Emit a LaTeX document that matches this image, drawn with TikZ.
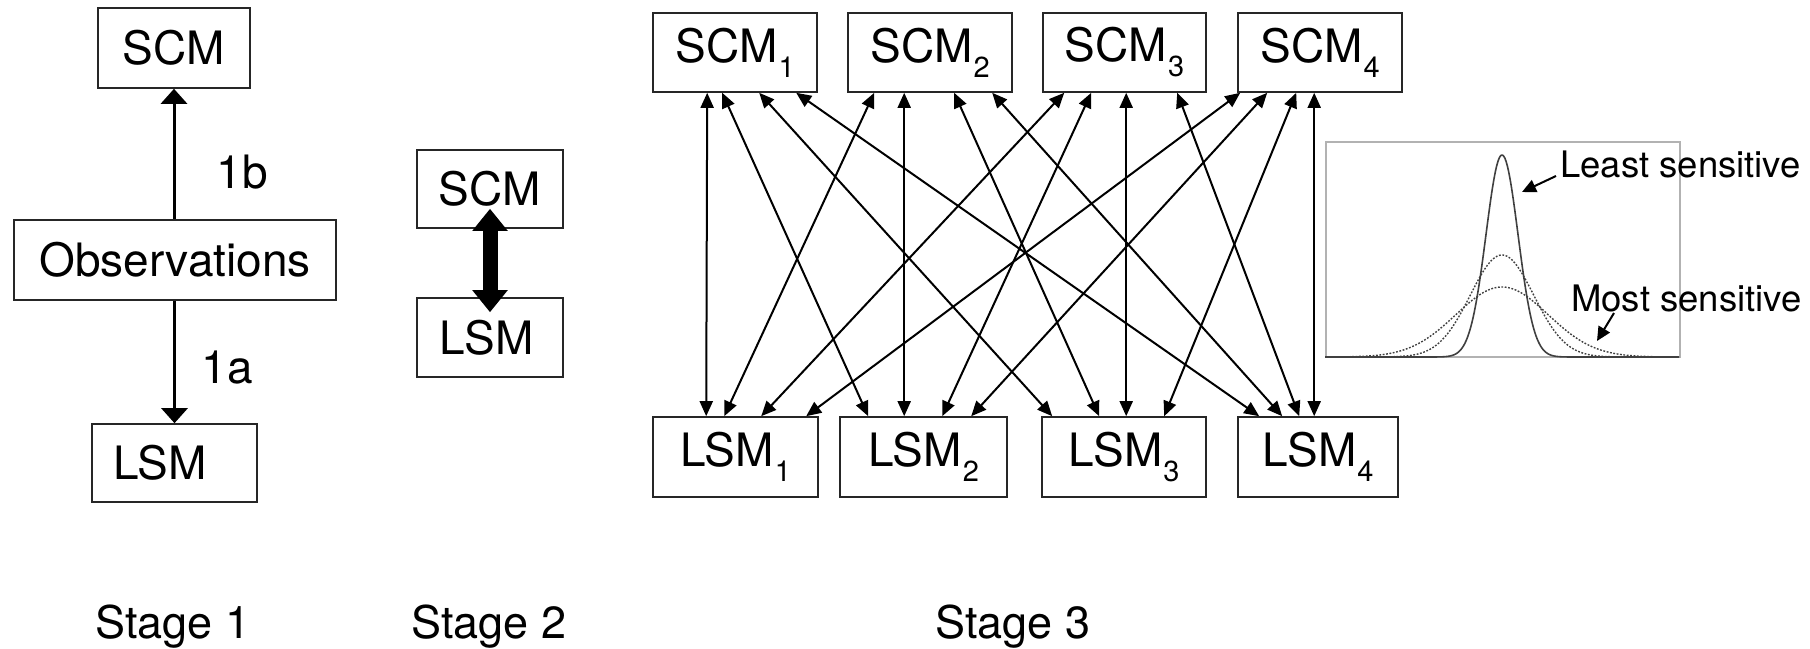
\documentclass[tikz,border=0pt]{standalone}
\usepackage{fontspec}
\setmainfont{TeX Gyre Heros}
\usetikzlibrary{arrows.meta,calc}
\newcommand\lsub[1]{\hspace{1pt}\raisebox{-15pt}{\fontsize{29}{29}\selectfont #1}}
\begin{document}
\begin{tikzpicture}[x=1pt,y=-1pt,
  box/.style={draw=black!85,line width=1.6pt,inner sep=0pt,font=\fontsize{46}{50}\selectfont},
  txt/.style={inner sep=0pt,font=\fontsize{46}{50}\selectfont},
  lbl/.style={inner sep=0pt,font=\fontsize{36.5}{40}\selectfont},
  stagelbl/.style={inner sep=0pt,font=\fontsize{45}{50}\selectfont,anchor=base},
  onearrow/.style={line width=3pt,-{Triangle[width=26pt,length=15pt]}},
  bigarrow/.style={line width=15pt,{Triangle[width=34pt,length=22pt]}-{Triangle[width=34pt,length=22pt]}},
  crossarrow/.style={line width=2pt,{Triangle[width=13pt,length=15pt]}-{Triangle[width=13pt,length=15pt]}},
  notearrow/.style={line width=2pt,-{Triangle[width=13pt,length=14pt]}},
  solidcurve/.style={line width=1.6pt,draw=black!75},
  dotcurve/.style={line width=1.4pt,draw=black!75,dash pattern=on 1.8pt off 1.6pt},
]
\useasboundingbox (0,0) rectangle (1810,648);

% ---------- Stage 1 ----------
\node[box,minimum width=152pt,minimum height=80pt] (s1scm) at (174,48) {SCM};
\node[box,minimum width=322pt,minimum height=80pt] (obs) at (175,260) {Observations};
\node[box,minimum width=165pt,minimum height=78pt] (s1lsm) at (174.5,463) {LSM\hspace*{29pt}};
\draw[onearrow] (obs.north -| s1scm.south) -- (s1scm.south);
\draw[onearrow] (obs.south -| s1lsm.north) -- (s1lsm.north);
\node[txt] (l1b) at (242,172) {1b};
\node[txt] (l1a) at (227,368) {1a};

% ---------- Stage 2 ----------
\node[box,minimum width=146pt,minimum height=78pt] (s2scm) at (490,189) {SCM};
\node[box,minimum width=146pt,minimum height=79pt] (s2lsm) at (490,337.5) {LSM\hspace*{7pt}};
\draw[bigarrow] ($(s2scm.south)+(0,-20)$) -- ($(s2lsm.north)+(0,15)$);

% ---------- Stage 3 ----------
\node[box,minimum width=164pt,minimum height=79pt] (scm1) at (735,52.5) {SCM\lsub{1}};
\node[box,minimum width=164pt,minimum height=79pt] (scm2) at (930,52.5) {SCM\lsub{2}};
\node[box,minimum width=163pt,minimum height=79pt] (scm3) at (1124.5,52.5) {SCM\lsub{3}};
\node[box,minimum width=164pt,minimum height=79pt] (scm4) at (1320,52.5) {SCM\lsub{4}};

\node[box,minimum width=165pt,minimum height=80pt] (lsm1) at (735.5,457) {LSM\lsub{1}};
\node[box,minimum width=167pt,minimum height=80pt] (lsm2) at (923.5,457) {LSM\lsub{2}};
\node[box,minimum width=164pt,minimum height=80pt] (lsm3) at (1124,457) {LSM\lsub{3}};
\node[box,minimum width=160pt,minimum height=80pt] (lsm4) at (1318,457) {LSM\lsub{4}};

% attachment points: t<i><j> on SCM_i towards LSM_j; b<j><i> on LSM_j towards SCM_i
\foreach \j/\dx in {1/55,2/70,3/107,4/144} \coordinate (t1\j) at ($(scm1.south west)+(\dx,0)$);
\foreach \j/\dx in {1/27,2/57,3/107,4/145} \coordinate (t2\j) at ($(scm2.south west)+(\dx,0)$);
\foreach \j/\dx in {1/22,2/49,3/84,4/135} \coordinate (t3\j) at ($(scm3.south west)+(\dx,0)$);
\foreach \j/\dx in {1/3,2/30,3/59,4/77} \coordinate (t4\j) at ($(scm4.south west)+(\dx,0)$);

\foreach \i/\dx in {1/54,2/72,3/109,4/154} \coordinate (b1\i) at ($(lsm1.north west)+(\dx,0)$);
\foreach \i/\dx in {1/29,2/65,3/103,4/132} \coordinate (b2\i) at ($(lsm2.north west)+(\dx,0)$);
\foreach \i/\dx in {1/11,2/58,3/85,4/123} \coordinate (b3\i) at ($(lsm3.north west)+(\dx,0)$);
\foreach \i/\dx in {1/22,2/45,3/62,4/77} \coordinate (b4\i) at ($(lsm4.north west)+(\dx,0)$);

\foreach \i in {1,2,3,4} {
  \foreach \j in {1,2,3,4} {
    \draw[crossarrow] (t\i\j) -- (b\j\i);
  }
}

% ---------- sensitivity plot ----------
\node[draw=black!30,line width=1.2pt,minimum width=354pt,minimum height=215pt,inner sep=0pt] (graph) at (1503,249.5) {};
\draw[dotcurve] plot[domain=-177:177,samples=240] ({1502+\x},{357-102*exp(-0.5*min((\x/31.7)^2,40))});
\draw[dotcurve] plot[domain=-177:177,samples=240] ({1502+\x},{357-70*exp(-0.5*min((\x/46)^2,40))});
\draw[solidcurve] plot[domain=-177:177,samples=300] ({1502+\x},{357-202*exp(-0.5*min((\x/16)^2,40))});

\node[lbl,anchor=base west] (least) at (1560,177) {Least sensitive};
\node[lbl,anchor=base west] (most) at (1571,311) {Most sensitive};
\coordinate (leastfrom) at (1556,176);
\coordinate (leastto) at (1522,192);
\coordinate (mostfrom) at (1614,313);
\coordinate (mostto) at (1597,341);
\draw[notearrow] (leastfrom) -- (leastto);
\draw[notearrow] (mostfrom) -- (mostto);

% ---------- stage labels ----------
\node[stagelbl] (st1) at (173,638) {Stage 1};
\node[stagelbl] (st2) at (489,638) {Stage 2};
\node[stagelbl] (st3) at (1013,638) {Stage 3};
\end{tikzpicture}
\end{document}
